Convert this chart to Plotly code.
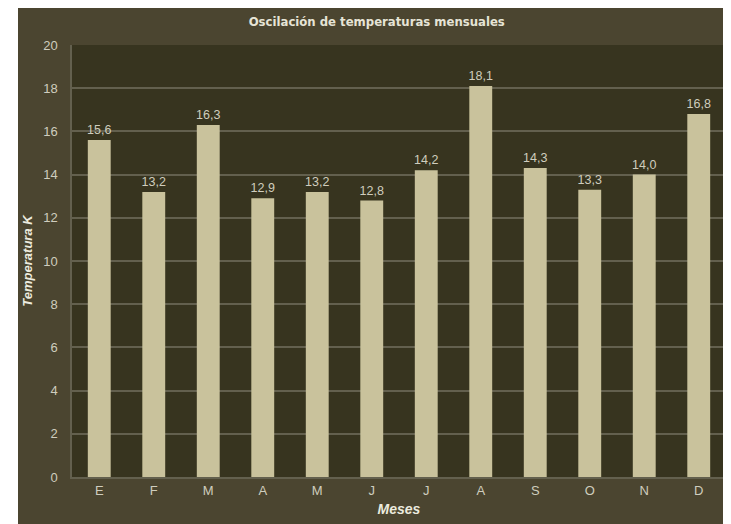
import plotly.graph_objects as go

meses = ["E", "F", "M", "A", "M", "J", "J", "A", "S", "O", "N", "D"]
temperaturas = [15.6, 13.2, 16.3, 12.9, 13.2, 12.8, 14.2, 18.1, 14.3, 13.3, 14.0, 16.8]
y_ticks = list(range(0, 21, 2))

panel = "#4b4530"
plot_bg = "#37341f"
bar_color = "#c9c29c"
grid = "#63604e"
text_color = "#cfcdbe"

# unique x positions so repeated letters stay separate bars
x_pos = list(range(len(meses)))
etiquetas = [f"{v:.1f}".replace(".", ",") for v in temperaturas]

fig = go.Figure()
fig.add_trace(
    go.Bar(
        x=x_pos,
        y=temperaturas,
        marker=dict(color=bar_color, line=dict(width=0)),
        text=etiquetas,
        textposition="outside",
        constraintext="none",
        textfont=dict(color=text_color, size=12.5, family="Liberation Sans, Arial"),
        cliponaxis=False,
        hoverinfo="skip",
    )
)

# page body adds 8px offset, so the figure is sized to 723x516
fig.update_layout(
    width=723,
    height=516,
    paper_bgcolor="white",
    plot_bgcolor=plot_bg,
    margin=dict(l=64, r=5, t=37, b=47, autoexpand=False),
    bargap=0.58,
    showlegend=False,
    font=dict(family="Liberation Sans, Arial", color=text_color, size=12),
    title=dict(
        text="<b>Oscilación de temperaturas mensuales</b>",
        x=0.51,
        xanchor="center",
        y=0.973,
        yanchor="middle",
        font=dict(family="DejaVu Sans", size=11.7, color="#e6e4d6"),
    ),
    xaxis=dict(
        tickmode="array",
        tickvals=x_pos,
        ticktext=meses,
        range=[-0.5, len(meses) - 0.5],
        automargin=False,
        showgrid=False,
        showline=True,
        linecolor=grid,
        linewidth=2,
        ticks="",
        tickfont=dict(size=13, color=text_color),
        title=dict(
            text="<b><i>Meses</i></b>",
            font=dict(size=14, color="#ecebdf"),
            standoff=8,
        ),
    ),
    yaxis=dict(
        range=[0, 20],
        tickvals=y_ticks,
        automargin=False,
        showgrid=True,
        gridcolor=grid,
        gridwidth=1.5,
        showline=True,
        linecolor=grid,
        linewidth=1.5,
        zeroline=False,
        ticks="",
        ticklabelstandoff=10,
        tickfont=dict(size=13, color=text_color),
        title=dict(
            text="<b><i>Temperatura K</i></b>",
            font=dict(size=13, color="#ecebdf"),
            standoff=8,
        ),
    ),
    shapes=[
        dict(
            type="rect",
            xref="paper",
            yref="paper",
            x0=-54 / 654,
            x1=656 / 654,
            y0=-0.3,
            y1=1.2,
            fillcolor=panel,
            line=dict(width=0),
            layer="below",
        ),
        dict(
            type="rect",
            xref="paper",
            yref="paper",
            x0=0,
            x1=1,
            y0=0,
            y1=1,
            fillcolor=plot_bg,
            line=dict(width=0),
            layer="below",
        ),
    ],
)

fig.write_html("out.html")
